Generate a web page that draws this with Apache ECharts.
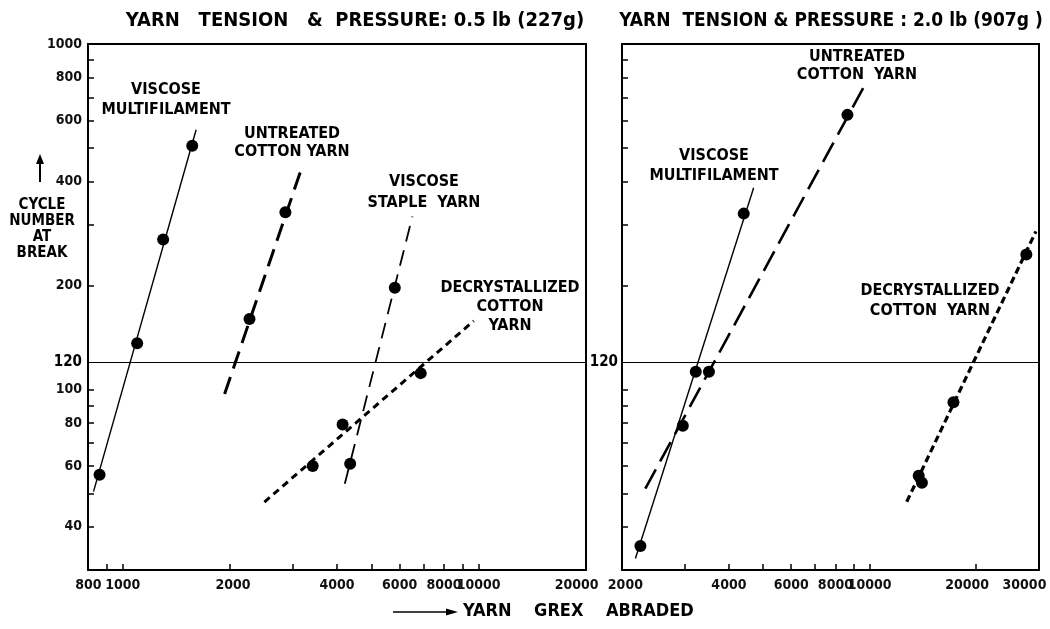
<!DOCTYPE html>
<html><head><meta charset="utf-8">
<script src="https://cdn.jsdelivr.net/npm/echarts@6/dist/echarts.min.js"></script>
<style>html,body{margin:0;padding:0;background:#fff}#c{width:1050px;height:629px}</style>
</head><body><div id="c"></div>
<script>
// ---- Left panel: tension & pressure 0.5 lb (227 g) ----
const leftViscoseMultiPts = [[860, 56.6], [1097, 136], [1298, 272], [1567, 508]];
const leftViscoseMultiFit = [[827, 50.6], [1607, 565]];
const leftUntreatedPts = [[2270, 160], [2864, 326]];
const leftUntreatedFit = [[1932, 97], [3205, 447]];
const leftStaplePts = [[4356, 60.9], [5815, 197]];
const leftStapleFit = [[4207, 53.3], [6517, 317]];
const leftDecrystPts = [[3418, 60.0], [4148, 79.1], [6877, 111.5]];
const leftDecrystFit = [[2500, 47.2], [9700, 158]];
// ---- Right panel: tension & pressure 2.0 lb (907 g) ----
const rightViscoseMultiPts = [[2249, 35.2], [3224, 112.5], [4406, 323]];
const rightViscoseMultiFit = [[2177, 32.4], [4700, 384]];
const rightUntreatedPts = [[2964, 78.5], [3513, 112.5], [8652, 624]];
const rightUntreatedFit = [[2322, 51.6], [9745, 770]];
const rightDecrystPts = [[13756, 56.2], [14049, 53.7], [17250, 91.8], [27720, 246]];
const rightDecrystFit = [[12730, 47.3], [29510, 287]];
// ---- axes ----
const leftXTicks = [900, 1000, 2000, 3000, 4000, 5000, 6000, 7000, 8000, 9000, 10000, 20000];
const leftXLabels = [800, 1000, 2000, 4000, 6000, 8000, 10000, 20000];
const rightXTicks = [3000, 4000, 5000, 6000, 7000, 8000, 9000, 10000, 20000];
const rightXLabels = [2000, 4000, 6000, 8000, 10000, 20000, 30000];
const yTicks = [40, 50, 60, 70, 80, 90, 100, 200, 300, 400, 500, 600, 700, 800, 900, 1000];
const leftYLabels = [40, 60, 80, 100, 120, 200, 400, 600, 800, 1000];
const rightYLabels = [120];
const refLevel = 120;
const titles = ['YARN   TENSION   &  PRESSURE: 0.5 lb (227g)', 'YARN  TENSION & PRESSURE : 2.0 lb (907g )'];

const FONT = "'DejaVu Sans Condensed','Liberation Sans Narrow','Roboto Condensed','DejaVu Sans',sans-serif";
const chart = echarts.init(document.getElementById('c'), null, {renderer: 'canvas'});

// label nudges (edge labels sit clear of the neighbouring panel)
const nudge = {20000: [0, 18, 0, 0], 2000: [0, 0, 0, 6], 30000: [0, 28, 0, 0]};
function xAxis(grid, min, max, ticks, labels) {
  return {
    type: 'log', logBase: 10, gridIndex: grid, min: min, max: max,
    axisLine: {show: true, lineStyle: {color: '#000', width: 2}},
    axisTick: {show: true, inside: true, length: 6, customValues: ticks, lineStyle: {color: '#000', width: 1.5}},
    minorTick: {show: false}, splitLine: {show: false},
    axisLabel: {customValues: labels, margin: 8, color: '#111', fontFamily: FONT, fontWeight: 'bold', fontSize: 14,
      formatter: v => { const r = Math.round(v); return nudge[r] ? '{n' + r + '|' + r + '}' : String(r); },
      rich: {
        n20000: {fontFamily: FONT, fontWeight: 'bold', fontSize: 14, color: '#111', padding: nudge[20000]},
        n2000: {fontFamily: FONT, fontWeight: 'bold', fontSize: 14, color: '#111', padding: nudge[2000]},
        n30000: {fontFamily: FONT, fontWeight: 'bold', fontSize: 14, color: '#111', padding: nudge[30000]}
      }}
  };
}
function yAxis(grid, labels, margin) {
  return {
    type: 'log', logBase: 10, gridIndex: grid, min: 30, max: 1001,
    axisLine: {show: true, lineStyle: {color: '#000', width: 2}},
    axisTick: {show: true, inside: true, length: 6, customValues: yTicks, lineStyle: {color: '#000', width: 1.5}},
    minorTick: {show: false}, splitLine: {show: false},
    axisLabel: {customValues: labels, margin: margin, color: '#111', fontFamily: FONT, fontWeight: 'bold', fontSize: 14,
      formatter: v => Math.round(v) === 120 ? '{b|120}' : String(Math.round(v)),
      rich: {b: {fontFamily: FONT, fontWeight: 'bold', fontSize: 15, color: '#000'}}}
  };
}
function fit(data, grid, width, dash) {
  return {type: 'line', xAxisIndex: grid, yAxisIndex: grid, data: data, showSymbol: false, symbol: 'none',
    lineStyle: {color: '#000', width: width, type: dash, cap: 'butt', opacity: 1}, silent: true, z: 3};
}
function pts(data, grid) {
  return {type: 'scatter', xAxisIndex: grid, yAxisIndex: grid, data: data, symbol: 'circle', symbolSize: 12,
    itemStyle: {color: '#000', opacity: 1}, silent: true, z: 4};
}
function refLine(grid) {
  return {type: 'line', xAxisIndex: grid, yAxisIndex: grid, data: [], silent: true,
    markLine: {silent: true, symbol: 'none', label: {show: false}, animation: false,
      lineStyle: {color: '#000', width: 1.2, type: 'solid'}, data: [{yAxis: refLevel}]}};
}
function txt(x, y, s, lh, size) {
  return {type: 'text', x: x, y: y, z: 10,
    style: {text: s, x: 0, y: 0, align: 'center', verticalAlign: 'top', font: 'bold ' + (size || 16) + 'px ' + FONT,
      fill: '#000', lineHeight: lh}};
}

chart.setOption({
  animation: false,
  backgroundColor: '#fff',
  title: [
    {text: titles[0], left: 350, top: 6, textAlign: 'center',
      textStyle: {fontFamily: FONT, fontWeight: 'bold', fontSize: 20, color: '#000'}},
    {text: titles[1], left: 826, top: 7, textAlign: 'center',
      textStyle: {fontFamily: FONT, fontWeight: 'bold', fontSize: 19, color: '#000'}}
  ],
  grid: [
    {left: 88, top: 44, width: 498, height: 526, show: true, borderColor: '#000', borderWidth: 2, backgroundColor: 'transparent'},
    {left: 622, top: 44, width: 417, height: 526, show: true, borderColor: '#000', borderWidth: 2, backgroundColor: 'transparent'}
  ],
  xAxis: [xAxis(0, 798, 20050, leftXTicks, leftXLabels), xAxis(1, 1995, 30100, rightXTicks, rightXLabels)],
  yAxis: [yAxis(0, leftYLabels, 6), yAxis(1, rightYLabels, 4)],
  series: [
    refLine(0), refLine(1),
    fit(leftViscoseMultiFit, 0, 1.4, 'solid'), pts(leftViscoseMultiPts, 0),
    fit(leftUntreatedFit, 0, 3, [18, 9]), pts(leftUntreatedPts, 0),
    fit(leftStapleFit, 0, 1.8, [16, 9]), pts(leftStaplePts, 0),
    fit(leftDecrystFit, 0, 3, [7, 5]), pts(leftDecrystPts, 0),
    fit(rightViscoseMultiFit, 1, 1.4, 'solid'), pts(rightViscoseMultiPts, 1),
    fit(rightUntreatedFit, 1, 2.6, [22, 9]), pts(rightUntreatedPts, 1),
    fit(rightDecrystFit, 1, 3.2, [7, 4]), pts(rightDecrystPts, 1)
  ],
  graphic: [
    txt(166, 80, 'VISCOSE\nMULTIFILAMENT', 20),
    txt(292, 125, 'UNTREATED\nCOTTON YARN', 18),
    txt(424, 171, 'VISCOSE\nSTAPLE  YARN', 21),
    txt(510, 278, 'DECRYSTALLIZED\nCOTTON\nYARN', 19),
    txt(857, 48, 'UNTREATED\nCOTTON  YARN', 18),
    txt(714, 146, 'VISCOSE\nMULTIFILAMENT', 20),
    txt(930, 281, 'DECRYSTALLIZED\nCOTTON  YARN', 20),
    txt(42, 197, 'CYCLE\nNUMBER\nAT\nBREAK', 16, 15),
    {type: 'line', shape: {x1: 40, y1: 182, x2: 40, y2: 162}, style: {stroke: '#000', lineWidth: 2}},
    {type: 'polygon', shape: {points: [[36, 164], [44, 164], [40, 154]]}, style: {fill: '#000'}},
    {type: 'line', shape: {x1: 393, y1: 612, x2: 450, y2: 612}, style: {stroke: '#000', lineWidth: 1.6}},
    {type: 'polygon', shape: {points: [[446, 608.5], [446, 615.5], [458, 612]]}, style: {fill: '#000'}},
    {type: 'text', x: 463, y: 602, style: {text: 'YARN    GREX    ABRADED', font: 'bold 18px ' + FONT, fill: '#000', align: 'left', verticalAlign: 'top'}}
  ]
});
</script>
</body></html>
